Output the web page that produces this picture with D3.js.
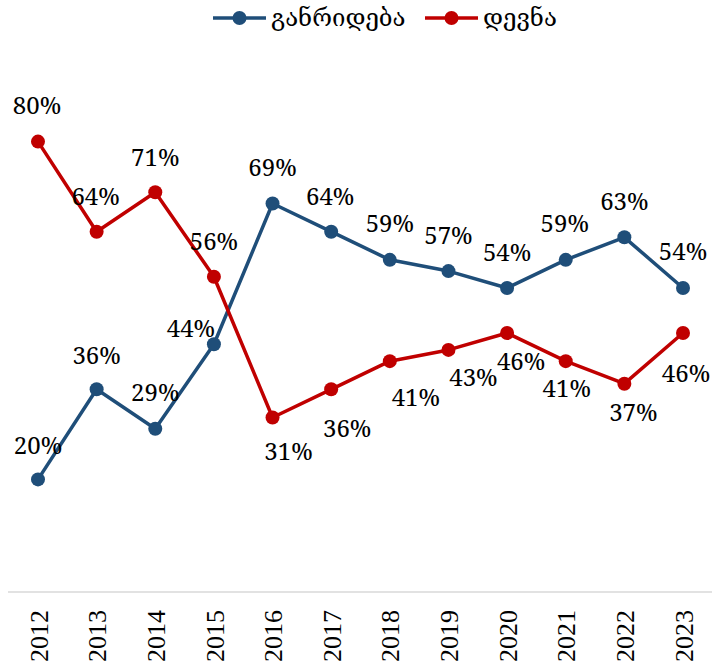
<!DOCTYPE html>
<html><head><meta charset="utf-8">
<script src="https://cdn.jsdelivr.net/npm/d3@7"></script>
<style>body{margin:0;background:#fff}svg{display:block}</style>
</head><body>
<svg id="c" width="720" height="662"></svg>
<script>
const years = ["2012","2013","2014","2015","2016","2017","2018","2019","2020","2021","2022","2023"];
const seriesNames = ["განრიდება","დევნა"];
const blueValues = [20,36,29,44,69,64,59,57,54,59,63,54];
const redValues = [80,64,71,56,31,36,41,43,46,41,37,46];
const colors = ["#1F4E79","#C00000"];
// label nudges (dx, dy from point) for each series
const blueNudge = [[0,-34],[0,-34],[0,-36],[-23,-16],[0,-36],[-1,-35],[0,-36],[0,-35],[0,-35],[-1,-36],[0,-36],[0,-36]];
const redNudge = [[-1,-36],[-1,-35],[0,-35],[0,-35],[16,34],[16,39],[26,36],[25,28],[14,29],[1,27],[9,29],[3,41]];

const svg = d3.select("#c");
const x = d3.scalePoint().domain(years).range([38,683]);
const y = d3.scaleLinear().domain([0,100]).range([592,29]);

// axis
const ax = svg.append("g").attr("transform","translate(0,592)")
  .call(d3.axisBottom(x).tickSize(0).tickPadding(0));
ax.attr("font-family","'Liberation Serif', serif").attr("font-size",26);
ax.select(".domain").remove();
svg.append("line").attr("x1",8).attr("x2",712).attr("y1",592).attr("y2",592)
  .attr("stroke","#d9d9d9").attr("stroke-width",1.5);
ax.selectAll("text")
  .attr("transform","rotate(-90)")
  .attr("x",-18).attr("y",0).attr("dy","0.35em")
  .attr("text-anchor","end")
  .style("font-family","'Liberation Serif', serif")
  .style("font-size","26px").attr("fill","#000");

const line = d3.line().x((d,i)=>x(years[i])).y(d=>y(d));
const data = [blueValues, redValues];
const nudges = [blueNudge, redNudge];
data.forEach((vals,s)=>{
  svg.append("path").datum(vals).attr("d",line)
    .attr("fill","none").attr("stroke",colors[s]).attr("stroke-width",3.5)
    .attr("stroke-linejoin","round");
  svg.selectAll(null).data(vals).enter().append("circle")
    .attr("cx",(d,i)=>x(years[i])).attr("cy",d=>y(d)).attr("r",7)
    .attr("fill",colors[s]);
});
data.forEach((vals,s)=>{
  svg.selectAll(null).data(vals).enter().append("text")
    .attr("x",(d,i)=>x(years[i])+nudges[s][i][0])
    .attr("y",(d,i)=>y(d)+nudges[s][i][1])
    .attr("dy","0.35em")
    .attr("text-anchor","middle")
    .style("font-family","'Noto Serif', serif")
    .style("font-size","24px").attr("fill","#000")
    .text(d=>d+"%");
});

// legend
const legX = [213,425];
seriesNames.forEach((n,s)=>{
  const g = svg.append("g").attr("transform",`translate(${legX[s]},18)`);
  g.append("line").attr("x1",0).attr("x2",53).attr("stroke",colors[s]).attr("stroke-width",3.5);
  g.append("circle").attr("cx",26.5).attr("r",7).attr("fill",colors[s]);
  g.append("text").attr("x",58).attr("dy","0.35em")
    .style("font-family","'DejaVu Serif', serif").style("font-size","24px").attr("fill","#000")
    .text(n);
});
</script>
</body></html>
